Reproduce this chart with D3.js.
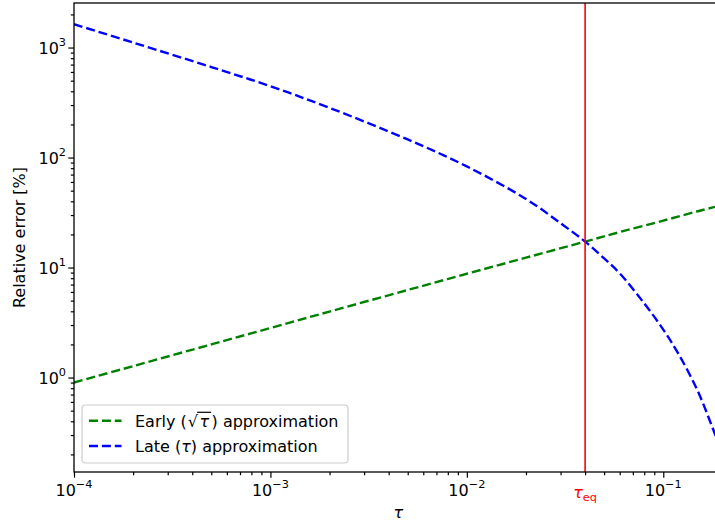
<!DOCTYPE html>
<html>
<head>
<meta charset="utf-8">
<script src="https://cdn.jsdelivr.net/npm/d3@7"></script>
<style>
  body { margin: 0; background: #fff; }
  svg { display: block; }
  text { font-family: "DejaVu Sans", sans-serif; }
</style>
</head>
<body>
<svg id="chart" width="715" height="525"></svg>
<script>
// Dimensionless time samples and the relative error (%) of each approximation
const tauEarly = [1e-4, 2e-4, 5e-4, 1e-3, 2e-3, 5e-3, 1e-2, 2e-2, 4e-2, 6e-2, 0.1, 0.15, 0.2];
const earlyErr = [0.90, 1.27, 2.00, 2.82, 3.98, 6.25, 8.78, 12.3, 17.2, 21.0, 26.7, 32.5, 37.0];

const tauLate = [1e-4, 2e-4, 5e-4, 1e-3, 2e-3, 5e-3, 1e-2, 2e-2, 3e-2, 4e-2, 5e-2, 6e-2, 8e-2, 0.1, 0.12, 0.15, 0.18, 0.2];
const lateErr = [1630, 1110, 665, 445, 283, 146, 83, 42, 25.3, 17.2, 12.1, 8.86, 4.72, 2.73, 1.62, 0.75, 0.333, 0.203];

// Switch-over time between the two approximations
const tauEq = 0.04;

// Axis ticks and labels
const xMajor = [1e-4, 1e-3, 1e-2, 1e-1];
const xMajorExp = ["\u22124", "\u22123", "\u22122", "\u22121"];
const yMajor = [1, 10, 100, 1000];
const yMajorExp = ["0", "1", "2", "3"];

const seriesNames = ["Early", "Late"];
const seriesColors = ["green", "blue"];

const svg = d3.select("#chart");
const L = 74, T = 3, R = 722.4, B = 472;

const x = d3.scaleLog().domain([1e-4, 0.2]).range([L, R]);
const y = d3.scaleLog().domain([0.1384, 2541]).range([B, T]);

const minorTicks = (lo, hi) => {
  const out = [];
  for (let e = Math.floor(Math.log10(lo)); e <= Math.ceil(Math.log10(hi)); e++) {
    for (let m = 2; m <= 9; m++) {
      const v = m * Math.pow(10, e);
      if (v >= lo && v <= hi) out.push(v);
    }
  }
  return out;
};

svg.append("defs").append("clipPath").attr("id", "plotArea")
  .append("rect").attr("x", L).attr("y", T).attr("width", R - L).attr("height", B - T);

// Curves
const line = d3.line().x(d => x(d[0])).y(d => y(d[1])).curve(d3.curveCatmullRom.alpha(0.5));
const plot = svg.append("g").attr("clip-path", "url(#plotArea)");
plot.append("path")
  .datum(tauEarly.map((t, i) => [t, earlyErr[i]]))
  .attr("d", line).attr("fill", "none").attr("stroke", seriesColors[0])
  .attr("stroke-width", 2.4).attr("stroke-dasharray", "9,3.9");
plot.append("path")
  .datum(tauLate.map((t, i) => [t, lateErr[i]]))
  .attr("d", line).attr("fill", "none").attr("stroke", seriesColors[1])
  .attr("stroke-width", 2.4).attr("stroke-dasharray", "9,3.9");

// Vertical marker at tau_eq
plot.append("line")
  .attr("x1", x(tauEq)).attr("x2", x(tauEq)).attr("y1", T).attr("y2", B)
  .attr("stroke", "red").attr("stroke-width", 1.6);

// Axes (ticks only; spines drawn as a frame)
const styleAxis = g => {
  g.select(".domain").remove();
  g.selectAll(".tick line").attr("stroke", "#000").attr("stroke-width", 1.2);
  g.selectAll(".tick text").remove();
};
svg.append("g").attr("transform", `translate(0,${B})`)
  .call(d3.axisBottom(x).tickValues(xMajor).tickSize(5.7).tickFormat("")).call(styleAxis);
svg.append("g").attr("transform", `translate(0,${B})`)
  .call(d3.axisBottom(x).tickValues(minorTicks(1e-4, 0.2)).tickSize(3.2).tickFormat("")).call(styleAxis);
svg.append("g").attr("transform", `translate(${L},0)`)
  .call(d3.axisLeft(y).tickValues(yMajor).tickSize(5.7).tickFormat("")).call(styleAxis);
svg.append("g").attr("transform", `translate(${L},0)`)
  .call(d3.axisLeft(y).tickValues(minorTicks(0.1384, 2541)).tickSize(3.2).tickFormat("")).call(styleAxis);

svg.append("rect").attr("x", L).attr("y", T).attr("width", R - L).attr("height", B - T)
  .attr("fill", "none").attr("stroke", "#000").attr("stroke-width", 1.3);

// Tick labels
xMajor.forEach((v, i) => {
  const t = svg.append("text").attr("x", x(v)).attr("y", 495.5)
    .attr("text-anchor", "middle").attr("font-size", 16).attr("fill", "#000");
  t.append("tspan").text("10");
  t.append("tspan").attr("font-size", 11.3).attr("dy", -7.5).text(xMajorExp[i]);
});
yMajor.forEach((v, i) => {
  const t = svg.append("text").attr("x", 66).attr("y", y(v) + 6.3)
    .attr("text-anchor", "end").attr("font-size", 16).attr("fill", "#000");
  t.append("tspan").text("10");
  t.append("tspan").attr("font-size", 11.3).attr("dy", -7.5).text(yMajorExp[i]);
});

// tau_eq label
const eq = svg.append("text").attr("x", x(tauEq)).attr("y", 498)
  .attr("text-anchor", "middle").attr("fill", "red").attr("font-size", 16);
eq.append("tspan").attr("font-style", "italic").text("\u03c4");
eq.append("tspan").attr("font-size", 11.3).attr("dy", 3).text("eq");

// Axis titles
svg.append("text").attr("x", (L + R) / 2).attr("y", 517.5).attr("text-anchor", "middle")
  .attr("font-size", 16).attr("font-style", "italic").text("\u03c4");
svg.append("text").attr("transform", `translate(25,${(T + B) / 2}) rotate(-90)`)
  .attr("text-anchor", "middle").attr("font-size", 16).text("Relative error [%]");

// Legend
const lg = svg.append("g");
lg.append("rect").attr("x", 82).attr("y", 405).attr("width", 266).attr("height", 58)
  .attr("rx", 3.5).attr("fill", "#fff").attr("fill-opacity", 0.8)
  .attr("stroke", "#cccccc").attr("stroke-width", 1.2);
const rowY = [420.7, 446];
rowY.forEach((ry, i) => {
  lg.append("line").attr("x1", 89).attr("x2", 121.5).attr("y1", ry).attr("y2", ry)
    .attr("stroke", seriesColors[i]).attr("stroke-width", 2.4).attr("stroke-dasharray", "9,3.9");
});

// Row 1: Early (sqrt(tau)) approximation
{
  const base = rowY[0] + 5.8;
  let cx = 135;
  const put = (str, opts = {}) => {
    const t = lg.append("text").attr("x", cx).attr("y", base).attr("font-size", 16).text(str);
    if (opts.italic) t.attr("font-style", "italic");
    const w = t.node().getComputedTextLength();
    const x0 = cx;
    cx += w;
    return [x0, w];
  };
  put(seriesNames[0] + " (");
  cx += 1;
  const [rx, rw] = put("\u221a");
  cx += 1.5;
  const [tx, tw] = put("\u03c4", { italic: true });
  lg.append("line").attr("x1", rx + rw - 0.8).attr("x2", tx + tw + 2)
    .attr("y1", base - 14.2).attr("y2", base - 14.2)
    .attr("stroke", "#000").attr("stroke-width", 1.2);
  cx += 2.5;
  put(") approximation");
}
// Row 2: Late (tau) approximation
{
  const t = lg.append("text").attr("x", 135).attr("y", rowY[1] + 5.8).attr("font-size", 16);
  t.append("tspan").text(seriesNames[1] + " (");
  t.append("tspan").attr("font-style", "italic").text("\u03c4");
  t.append("tspan").text(") approximation");
}
</script>
</body>
</html>
